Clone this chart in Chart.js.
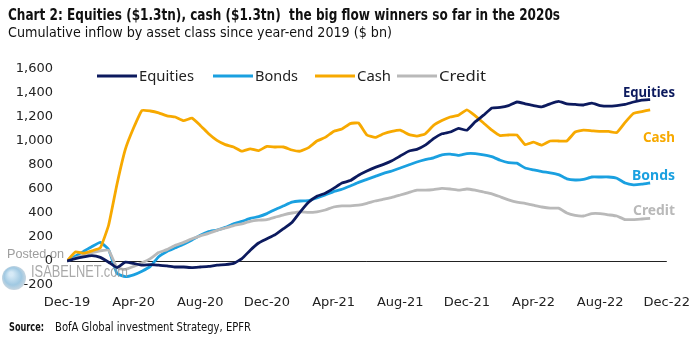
<!DOCTYPE html>
<html>
<head>
<meta charset="utf-8">
<script src="https://cdn.jsdelivr.net/npm/chart.js@4.4.0/dist/chart.umd.min.js"></script>
<style>
  html, body { margin: 0; padding: 0; background: #fff; }
  #wrap { width: 700px; height: 340px; }
</style>
</head>
<body>
<div id="wrap"><canvas id="chart" width="700" height="340"></canvas></div>
<script>
// ── Data: months since year-end 2019 ───────────────────────────────
const months = [
  0, 0.5, 1, 1.5, 2, 2.5, 3, 3.5, 4, 4.5, 5, 5.5, 6, 6.5, 7, 7.5, 8, 8.5, 9, 9.5,
  10, 10.5, 11, 11.5, 12, 12.5, 13, 13.5, 14, 14.5, 15, 15.5, 16, 16.5, 17, 17.5,
  18, 18.5, 19, 19.5, 20, 20.5, 21, 21.5, 22, 22.5, 23, 23.5, 24, 24.5, 25, 25.5,
  26, 26.5, 27, 27.5, 28, 28.5, 29, 29.5, 30, 30.5, 31, 31.5, 32, 32.5, 33, 33.5,
  34, 34.5, 35
];

const equities = [
  0, 20, 35, 45, 30, -10, -55, -10, -20, -35, -30, -35, -40, -50, -50, -55, -50, -45, -35, -30,
  -20, 20, 90, 150, 185, 220, 270, 320, 410, 490, 540, 565, 605, 650, 670, 715,
  750, 780, 805, 835, 875, 915, 930, 965, 1020, 1060, 1075, 1105, 1090, 1160, 1215, 1275,
  1280, 1295, 1325, 1310, 1295, 1285, 1310, 1330, 1310, 1305, 1300, 1315, 1295, 1290, 1295, 1305,
  1325, 1340, 1345
];

const bonds = [
  0, 40, 80, 120, 155, 95, -105, -130, -115, -85, -45, 35, 80, 110, 140, 175, 215, 245, 258, 280,
  310, 330, 355, 370, 395, 430, 460, 490, 500, 503, 525, 550, 578, 598, 625, 655,
  680, 705, 730, 750, 775, 800, 825, 845, 860, 885, 890, 880, 895, 895, 885, 870,
  840, 820, 815, 775, 760, 745, 735, 720, 685, 675, 680, 700, 700, 700, 690, 650,
  635, 640, 650
];

const cash = [
  0, 75, 65, 85, 110, 300, 640, 930, 1110, 1255, 1250, 1235, 1210, 1200, 1170, 1190, 1130, 1060, 1005, 970,
  950, 915, 935, 920, 955, 950, 950, 925, 915, 945, 1000, 1030, 1080, 1100, 1145, 1150,
  1050, 1030, 1060, 1080, 1090, 1055, 1040, 1060, 1130, 1170, 1200, 1215, 1260, 1210, 1150, 1090,
  1045, 1050, 1050, 970, 990, 965, 1000, 1000, 1000, 1075, 1090, 1085, 1080, 1080, 1070, 1155,
  1230, 1245, 1260
];

const credit = [
  0, 25, 50, 70, 85, 90, -55, -70, -45, -15, 20, 70, 95, 130, 155, 185, 210, 230, 255, 275,
  295, 310, 330, 340, 345, 365, 385, 400, 410, 405, 410, 425, 450, 460, 460, 465,
  480, 500, 515, 530, 550, 570, 590, 590, 595, 605, 600, 590, 600, 590, 575, 560,
  535, 510, 490, 480, 465, 450, 440, 440, 400, 380, 375, 395, 395, 385, 375, 345,
  345, 350, 355
];

const tickLabels = ['Dec-19', 'Apr-20', 'Aug-20', 'Dec-20', 'Apr-21', 'Aug-21',
                    'Dec-21', 'Apr-22', 'Aug-22', 'Dec-22'];
const seriesNames = ['Equities', 'Bonds', 'Cash', 'Credit'];

const COLORS = {
  Equities: '#0c1a5e',
  Bonds:    '#1aa0e0',
  Cash:     '#f7a900',
  Credit:   '#b9b9b9'
};

const SANS   = '"Noto Sans", "Open Sans", sans-serif';
const NARROW = '"Liberation Sans Narrow", "DejaVu Sans Condensed", "Noto Sans", sans-serif';
const AXIS   = '"DejaVu Sans", Verdana, sans-serif';

const toPoints = vals => vals.map((v, i) => ({ x: months[i], y: v }));

// ── Draw text squeezed / stretched to a given width ────────────────
function fitText(ctx, text, x, y, width, align) {
  const w = ctx.measureText(text).width;
  const s = width / w;
  ctx.save();
  ctx.translate(x, y);
  ctx.scale(s, 1);
  ctx.textAlign = align || 'left';
  ctx.fillText(text, 0, 0);
  ctx.restore();
}

// ── Titles, legend, end labels, source, watermark ──────────────────
const overlay = {
  id: 'overlay',
  beforeDraw(chart) {
    const ctx = chart.ctx;
    ctx.save();
    ctx.fillStyle = '#fff';
    ctx.fillRect(0, 0, chart.width, chart.height);
    ctx.restore();
  },
  afterDatasetsDraw(chart) {
    const ctx = chart.ctx;
    ctx.save();
    ctx.textBaseline = 'alphabetic';

    // title + subtitle
    ctx.fillStyle = '#111';
    ctx.font = 'bold 16px ' + NARROW;
    fitText(ctx, 'Chart 2: Equities ($1.3tn), cash ($1.3tn)  the big flow winners so far in the 2020s', 8, 20, 552);
    ctx.font = '14px ' + NARROW;
    fitText(ctx, 'Cumulative inflow by asset class since year-end 2019 ($ bn)', 8, 37, 384);

    // legend
    const legend = [
      { name: 'Equities', x: 97,  w: 55 },
      { name: 'Bonds',    x: 213, w: 43 },
      { name: 'Cash',     x: 315, w: 34 },
      { name: 'Credit',   x: 397, w: 47 }
    ];
    ctx.font = '14px ' + SANS;
    legend.forEach(l => {
      ctx.strokeStyle = COLORS[l.name];
      ctx.lineWidth = 3;
      ctx.beginPath();
      ctx.moveTo(l.x, 76);
      ctx.lineTo(l.x + 40, 76);
      ctx.stroke();
      ctx.fillStyle = '#222';
      fitText(ctx, l.name, l.x + 42, 81, l.w);
    });

    // end-of-line labels
    const ends = [
      { name: 'Equities', y: 97,  w: 52 },
      { name: 'Cash',     y: 142, w: 32 },
      { name: 'Bonds',    y: 180, w: 43 },
      { name: 'Credit',   y: 215, w: 42 }
    ];
    ctx.font = 'bold 14px ' + SANS;
    ends.forEach(e => {
      ctx.fillStyle = COLORS[e.name];
      fitText(ctx, e.name, 675, e.y, e.w, 'right');
    });

    // source
    ctx.fillStyle = '#111';
    ctx.font = 'bold 12px ' + NARROW;
    fitText(ctx, 'Source:', 9, 331, 35);
    ctx.font = '12px ' + NARROW;
    fitText(ctx, 'BofA Global investment Strategy, EPFR', 55, 331, 196);

    // watermark
    ctx.globalAlpha = 0.85;
    const g = ctx.createRadialGradient(11, 274, 2, 14, 278, 13);
    g.addColorStop(0, '#cfe6f5');
    g.addColorStop(0.6, '#8fbfdd');
    g.addColorStop(1, '#c8d2da');
    ctx.fillStyle = g;
    ctx.beginPath();
    ctx.arc(14, 278, 12, 0, Math.PI * 2);
    ctx.fill();
    ctx.fillStyle = '#8c8c8c';
    ctx.font = '13px "Liberation Sans", Arial, sans-serif';
    fitText(ctx, 'Posted on', 7, 258, 57);
    ctx.fillStyle = '#9a9a9a';
    ctx.font = '16px "Liberation Sans", Arial, sans-serif';
    fitText(ctx, 'ISABELNET.com', 31, 277, 97);
    ctx.restore();
  }
};

// ── Chart ──────────────────────────────────────────────────────────
const order = { Equities: 1, Cash: 2, Credit: 3, Bonds: 4 };
const values = { Equities: equities, Bonds: bonds, Cash: cash, Credit: credit };

new Chart(document.getElementById('chart').getContext('2d'), {
  type: 'line',
  data: {
    datasets: seriesNames.map(name => ({
      label: name,
      data: toPoints(values[name]),
      borderColor: COLORS[name],
      borderWidth: 2.8,
      pointRadius: 0,
      tension: 0.12,
      fill: false,
      order: order[name]
    }))
  },
  options: {
    responsive: false,
    animation: false,
    layout: { padding: { top: 69, right: 28, left: 0, bottom: 0 } },
    plugins: {
      legend: { display: false },
      tooltip: { enabled: false }
    },
    scales: {
      x: {
        type: 'linear',
        min: 0,
        max: 36,
        afterFit: s => { s.height = 55; },
        grid: { display: false, drawTicks: false },
        border: { display: false },
        ticks: {
          stepSize: 4,
          autoSkip: false,
          maxRotation: 0,
          padding: 10,
          color: '#222',
          font: { family: AXIS, size: 13 },
          callback: v => tickLabels[v / 4]
        }
      },
      y: {
        min: -200,
        max: 1600,
        afterFit: s => { s.width = 67; },
        grid: {
          drawTicks: false,
          color: c => (c.tick && c.tick.value === 0 ? '#222' : 'rgba(0,0,0,0)'),
          lineWidth: 1
        },
        border: { display: false },
        ticks: {
          stepSize: 200,
          padding: 14,
          color: '#222',
          font: { family: AXIS, size: 13 },
          callback: v => v.toLocaleString('en-US')
        }
      }
    }
  },
  plugins: [overlay]
});
</script>
</body>
</html>
